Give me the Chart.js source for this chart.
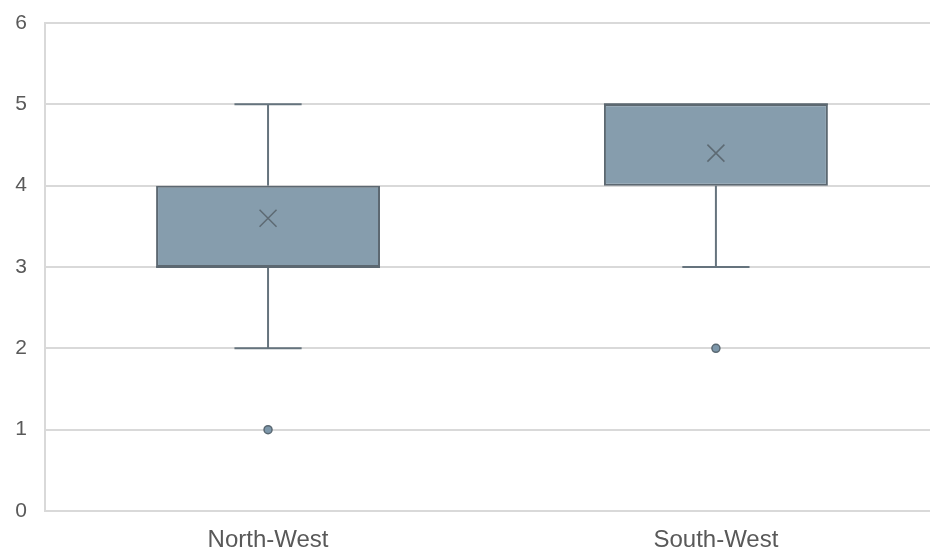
<!DOCTYPE html>
<html>
<head>
<meta charset="utf-8">
<script src="https://cdn.jsdelivr.net/npm/chart.js@4"></script>
<style>
  html, body { margin: 0; padding: 0; background: #ffffff; overflow: hidden; }
  #boxChart { display: block; }
</style>
</head>
<body>
<canvas id="boxChart" width="930" height="553"></canvas>
<script>
// box plot values
const regions = ["North-West", "South-West"];
const minValues = [2, 3];
const q1Values = [3, 4];
const medianValues = [3, 5];
const q3Values = [4, 5];
const maxValues = [5, 5];
const meanValues = [3.6, 4.4];
const outlierValues = [[1], [2]];
const yTicks = [0, 1, 2, 3, 4, 5, 6];

const boxFill = "#869dad";
const boxLine = "#5c6871";
const whiskerLine = "#65737d";

// categories sit at x = 1, 2; the plot is cut off at the right edge
let boxData = regions.map((r, i) => ({x: i + 1, y: [q1Values[i], q3Values[i]]}));
let meanPoints = meanValues.map((v, i) => ({x: i + 1, y: v}));
let outlierPoints = [];
outlierValues.forEach((list, i) => {
    list.forEach(v => outlierPoints.push({x: i + 1, y: v}));
});

// whiskers, caps and medians drawn with the chart's own scales
const boxExtras = {
    id: "boxExtras",
    beforeDatasetsDraw(chart){
        const ctx = chart.ctx;
        const xs = chart.scales.x;
        const ys = chart.scales.y;
        const bars = chart.getDatasetMeta(0).data;
        ctx.save();
        ctx.strokeStyle = whiskerLine;
        ctx.lineWidth = 2;
        regions.forEach((r, i) => {
            const cx = xs.getPixelForValue(i + 1);
            const capHalf = bars[i].width * 0.15;
            [[q1Values[i], minValues[i]], [q3Values[i], maxValues[i]]].forEach(pair => {
                if (pair[0] === pair[1]) return;
                const y0 = ys.getPixelForValue(pair[0]);
                const y1 = ys.getPixelForValue(pair[1]);
                ctx.beginPath();
                ctx.moveTo(cx, y0);
                ctx.lineTo(cx, y1);
                ctx.stroke();
                ctx.beginPath();
                ctx.moveTo(cx - capHalf, y1);
                ctx.lineTo(cx + capHalf, y1);
                ctx.stroke();
            });
        });
        ctx.restore();
    },
    afterDatasetsDraw(chart){
        const ctx = chart.ctx;
        const ys = chart.scales.y;
        const bars = chart.getDatasetMeta(0).data;
        ctx.save();
        ctx.strokeStyle = boxLine;
        ctx.lineWidth = 2;
        regions.forEach((r, i) => {
            const y = ys.getPixelForValue(medianValues[i]);
            ctx.beginPath();
            ctx.moveTo(bars[i].x - bars[i].width / 2, y);
            ctx.lineTo(bars[i].x + bars[i].width / 2, y);
            ctx.stroke();
        });
        ctx.restore();
    }
};

new Chart("boxChart", {
    type: "bar",
    data: {
        datasets: [
            {
                label: "Box",
                data: boxData,
                backgroundColor: boxFill,
                borderColor: boxLine,
                borderWidth: 2,
                borderSkipped: false,
                barPercentage: 1,
                categoryPercentage: 0.5,
                order: 2
            },
            {
                type: "line",
                label: "Mean",
                data: meanPoints,
                showLine: false,
                pointStyle: "crossRot",
                pointRadius: 12,
                pointBorderWidth: 1.5,
                pointBorderColor: "#5d6a73",
                order: 1
            },
            {
                type: "line",
                label: "Outliers",
                data: outlierPoints,
                showLine: false,
                pointStyle: "circle",
                pointRadius: 4,
                pointBorderWidth: 1.5,
                pointBackgroundColor: "#7d97aa",
                pointBorderColor: "#5a6872",
                order: 1
            }
        ]
    },
    options: {
        responsive: false,
        animation: false,
        layout: { autoPadding: false, padding: { top: 23, right: 0, bottom: 0, left: 0 } },
        plugins: {
            legend: { display: false },
            tooltip: { enabled: false }
        },
        scales: {
            x: {
                type: "linear",
                offset: false,
                bounds: "data",
                min: 0.502,
                max: 2.478,
                afterBuildTicks(scale){ scale.ticks = regions.map((r, i) => ({value: i + 1})); },
                grid: { display: false, drawTicks: false },
                border: { display: true, color: "#d9d9d9", width: 2 },
                ticks: {
                    color: "#595959",
                    padding: 15,
                    font: { family: "Liberation Sans", size: 24 },
                    callback: (v) => regions[v - 1]
                },
                afterFit(scale){
                    scale.height = 42;
                    scale.paddingLeft = 0;
                    scale.paddingRight = 0;
                }
            },
            y: {
                min: 0,
                max: 6,
                afterBuildTicks(scale){ scale.ticks = yTicks.map(v => ({value: v})); },
                grid: { color: "#d9d9d9", lineWidth: 2, drawTicks: false },
                border: { display: true, color: "#d9d9d9", width: 2 },
                ticks: {
                    color: "#595959",
                    padding: 18,
                    font: { family: "Liberation Sans", size: 21 }
                },
                afterFit(scale){
                    scale.width = 45;
                    scale.paddingTop = 0;
                    scale.paddingBottom = 0;
                }
            }
        }
    },
    plugins: [boxExtras]
});
</script>
</body>
</html>
